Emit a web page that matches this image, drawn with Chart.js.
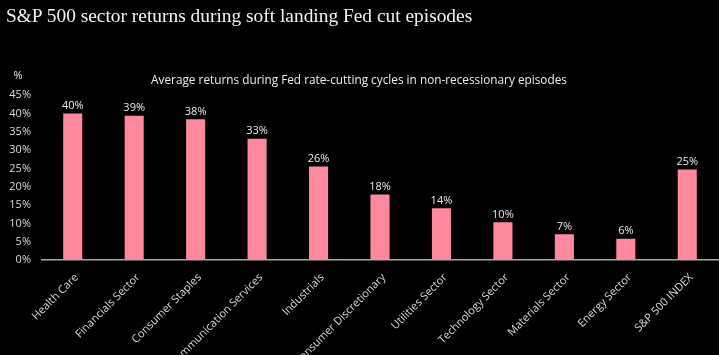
<!DOCTYPE html>
<html>
<head>
<meta charset="utf-8">
<script src="https://cdn.jsdelivr.net/npm/chart.js@4.4.1/dist/chart.umd.min.js"></script>
<style>
  html, body { margin: 0; padding: 0; background: #000; }
  #wrap { position: relative; width: 719px; height: 355px; background: #000; overflow: hidden; }
  #title { position: absolute; left: 6px; top: 5px; margin: 0; font-family: "Liberation Serif", "DejaVu Serif", serif; font-weight: normal; font-size: 19.4px; color: #f2f2f2; white-space: nowrap; }
  #c { position: absolute; left: 0; top: 0; }
</style>
</head>
<body>
<div id="wrap">
  <canvas id="c" width="719" height="355"></canvas>
  <h1 id="title">S&amp;P 500 sector returns during soft landing Fed cut episodes</h1>
</div>
<script>
const categories = ["Health Care", "Financials Sector", "Consumer Staples", "Communication Services", "Industrials", "Consumer Discretionary", "Utilities Sector", "Technology Sector", "Materials Sector", "Energy Sector", "S&P 500 INDEX"];
const returnsPct = [40.0, 39.4, 38.4, 33.1, 25.5, 17.9, 14.1, 10.3, 7.0, 5.8, 24.7];
const yTicks = [0, 5, 10, 15, 20, 25, 30, 35, 40, 45];
const subtitleText = "Average returns during Fed rate-cutting cycles in non-recessionary episodes";
const yUnitLabel = "%";

const FONT = "'Open Sans', 'Noto Sans', sans-serif";

const valueLabels = {
  id: 'valueLabels',
  afterDatasetsDraw(chart) {
    const ctx = chart.ctx;
    const meta = chart.getDatasetMeta(0);
    ctx.save();
    ctx.fillStyle = '#e8e8e8';
    ctx.font = "11px " + FONT;
    ctx.textAlign = 'center';
    ctx.textBaseline = 'bottom';
    meta.data.forEach((bar, i) => {
      ctx.fillText(Math.round(returnsPct[i]) + '%', bar.x, bar.y - 2);
    });
    ctx.textAlign = 'center';
    ctx.textBaseline = 'middle';
    ctx.fillText(yUnitLabel, 18, chart.chartArea.top - 19);
    ctx.restore();
  }
};

new Chart(document.getElementById('c'), {
  type: 'bar',
  data: {
    labels: categories,
    datasets: [{
      data: returnsPct,
      backgroundColor: '#ff889e',
      borderWidth: 0,
      barPercentage: 0.31,
      categoryPercentage: 1.0
    }]
  },
  options: {
    responsive: false,
    animation: false,
    devicePixelRatio: 1,
    layout: { padding: { left: 0, right: 1, top: 0, bottom: 0 } },
    plugins: {
      legend: { display: false },
      tooltip: { enabled: false },
      title: {
        display: true,
        text: subtitleText,
        color: '#ececec',
        font: { family: FONT, size: 11.8, weight: 'normal', lineHeight: 1.2 },
        padding: { top: 74, bottom: 7 }
      }
    },
    scales: {
      x: {
        grid: { display: false },
        border: { display: true, color: '#a6a6a6', width: 1.5 },
        ticks: {
          color: '#d9d9d9',
          font: { family: FONT, size: 11 },
          maxRotation: 45,
          minRotation: 45,
          autoSkip: false,
          padding: 3,
          labelOffset: 4
        },
        afterFit(scale) { scale.height = 95; }
      },
      y: {
        min: 0,
        max: 45,
        grid: { display: false },
        border: { display: false },
        afterBuildTicks(scale) { scale.ticks = yTicks.map(v => ({ value: v })); },
        ticks: {
          color: '#d9d9d9',
          font: { family: FONT, size: 11 },
          padding: 3,
          callback: (v) => v + '%'
        },
        afterFit(scale) { scale.width = 42; }
      }
    }
  },
  plugins: [valueLabels]
});
</script>
</body>
</html>
